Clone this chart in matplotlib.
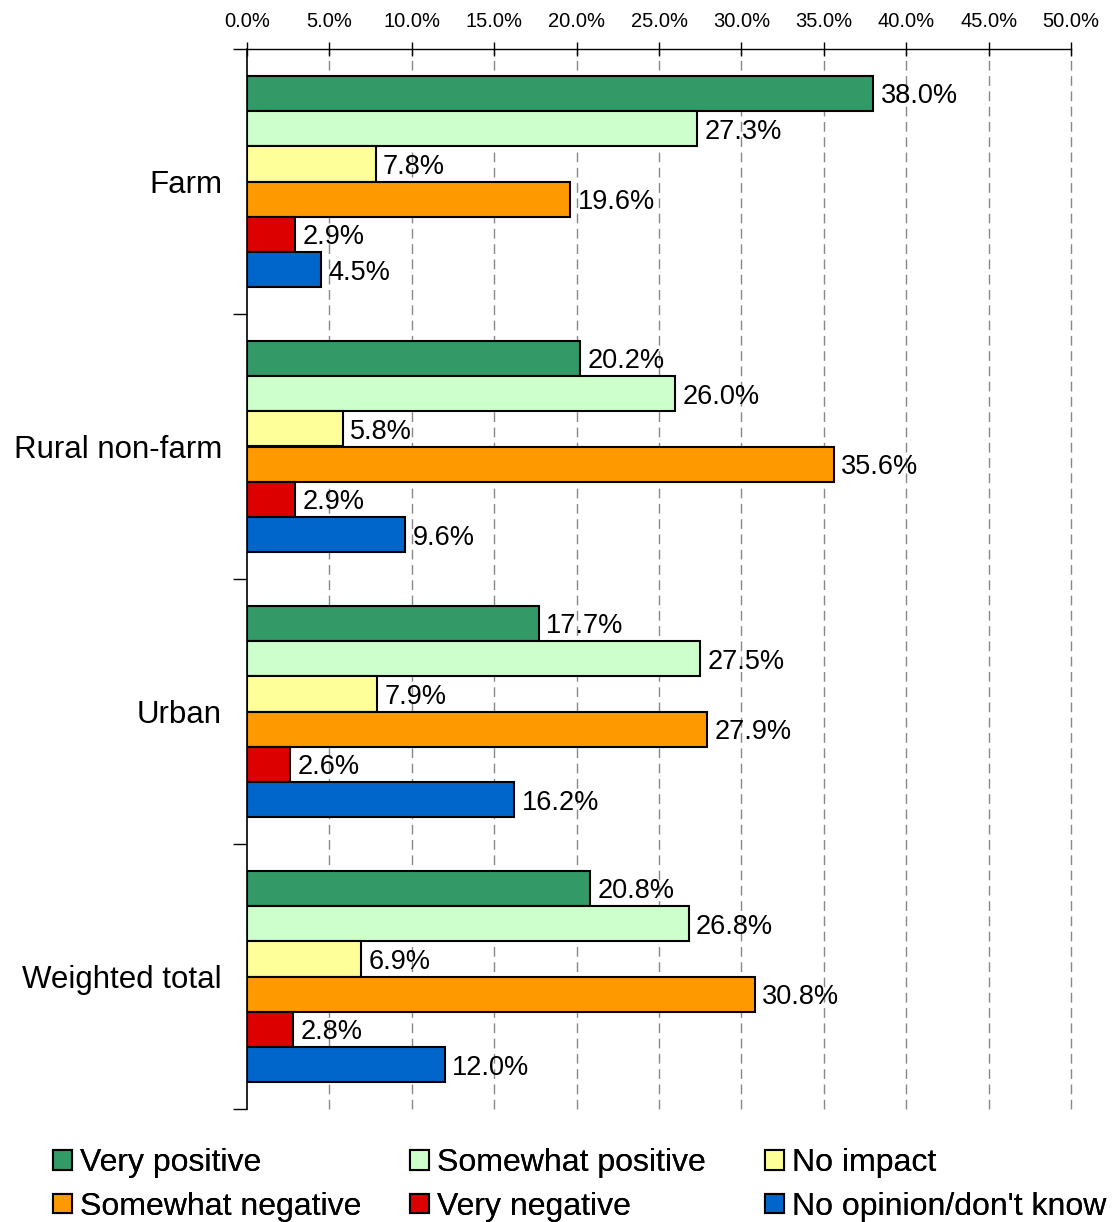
import matplotlib
matplotlib.use("Agg")
import matplotlib.pyplot as plt
from matplotlib.patches import Patch
import matplotlib.transforms as mtransforms
import numpy as np

plt.rcParams['font.family'] = ['Liberation Sans', 'DejaVu Sans']

categories = ["Farm", "Rural non-farm", "Urban", "Weighted total"]
series = ["Very positive", "Somewhat positive", "No impact",
          "Somewhat negative", "Very negative", "No opinion/don't know"]
values = {
    "Very positive":         [38.0, 20.2, 17.7, 20.8],
    "Somewhat positive":     [27.3, 26.0, 27.5, 26.8],
    "No impact":             [7.8, 5.8, 7.9, 6.9],
    "Somewhat negative":     [19.6, 35.6, 27.9, 30.8],
    "Very negative":         [2.9, 2.9, 2.6, 2.8],
    "No opinion/don't know": [4.5, 9.6, 16.2, 12.0],
}
colors = ["#339966", "#CCFFCC", "#FFFF99", "#FF9900", "#DD0000", "#0066CC"]
xticks = [0, 5, 10, 15, 20, 25, 30, 35, 40, 45, 50]

W, H = 1112, 1222
fig = plt.figure(figsize=(W / 100, H / 100), dpi=100)
ax = fig.add_axes([247 / W, 1 - 1109 / H, (1071 - 247) / W, (1109 - 49) / H])

# Dashed vertical gridlines at each percentage step
for t in xticks[1:]:
    ax.axvline(t, linestyle=(0, (7, 4)), color="#888888", linewidth=1,
               zorder=0, clip_on=False)

label_shift = mtransforms.offset_copy(ax.transData, fig=fig, x=0, y=-3,
                                      units="dots")
bar_h = 0.1333
n = len(series)
for j, (name, col) in enumerate(zip(series, colors)):
    ys = np.arange(len(categories)) + 0.5 + (j - (n - 1) / 2) * bar_h
    vals = values[name]
    ax.barh(ys, vals, height=bar_h, color=col, edgecolor="black",
            linewidth=1.5, zorder=3)
    for y, v in zip(ys, vals):
        ax.text(v + 0.45, y, f"{v:.1f}%", va="center", ha="left",
                fontsize=19.5, zorder=4, transform=label_shift)

ax.set_xlim(0, 50)
ax.set_ylim(len(categories), 0)

# Percentage axis along the top
ax.xaxis.tick_top()
ax.set_xticks(xticks)
ax.set_xticklabels([f"{t:.1f}%" for t in xticks], fontsize=14.5)
ax.tick_params(axis="x", direction="inout", length=10, width=1,
               color="#000000", pad=8)

# Category boundaries as major ticks, names centred as minor ticks
ax.set_yticks(np.arange(len(categories) + 1))
ax.set_yticklabels([])
ax.tick_params(axis="y", which="major", direction="out", length=10, width=1)
ax.set_yticks(np.arange(len(categories)) + 0.5, minor=True)
ax.set_yticklabels(categories, minor=True, fontsize=22.5)
ax.tick_params(axis="y", which="minor", length=0, pad=18)

for s in ["right", "bottom"]:
    ax.spines[s].set_visible(False)
ax.spines["left"].set_linewidth(1.2)
ax.spines["top"].set_linewidth(1)
ax.spines["top"].set_color("#000000")

# Legend: three columns, two entries each, read row by row
columns = [[0, 3], [1, 4], [2, 5]]
col_x = [50, 407, 762]
for idx, x0 in zip(columns, col_x):
    handles = [Patch(facecolor=colors[i], edgecolor="black", linewidth=1.5)
               for i in idx]
    labels = [series[i] for i in idx]
    leg = fig.legend(handles, labels, ncol=1, loc="lower left",
                     bbox_to_anchor=(x0 / W, -3 / H), frameon=False,
                     fontsize=23, handlelength=0.58, handleheight=0.58,
                     handletextpad=0.25, labelspacing=0.42,
                     borderaxespad=0.05, borderpad=0.05)
    fig.add_artist(leg)

fig.savefig("out.png", dpi=100)
